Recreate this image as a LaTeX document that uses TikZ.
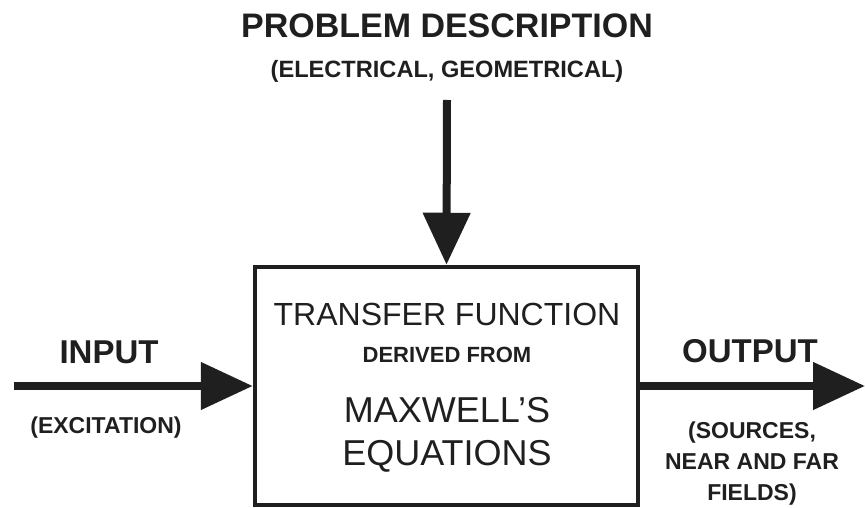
\documentclass[tikz,border=0pt]{standalone}
\usepackage{fontspec}
\setmainfont{Liberation Sans}
\usetikzlibrary{arrows.meta}
\begin{document}
\begin{tikzpicture}[x=1pt,y=-1pt,
  flow/.style={line width=8pt, draw=black!88,
    -{Triangle[length=52pt,width=46pt]}},
  frame/.style={draw=black!88, line width=4.5pt, minimum width=383pt,
    minimum height=238pt, inner sep=0pt},
  txt/.style={inner sep=0pt, anchor=base, text=black!88, align=center},
  bighead/.style={txt, font=\bfseries\fontsize{34}{40}\selectfont},
  label/.style={txt, font=\bfseries\fontsize{33}{40}\selectfont},
  note/.style={txt, font=\bfseries\fontsize{23}{31}\selectfont},
  inside/.style={txt, font=\fontsize{32}{38}\selectfont},
  insmall/.style={txt, font=\bfseries\fontsize{22}{26}\selectfont},
  inbig/.style={txt, font=\fontsize{36}{43}\selectfont}]
\useasboundingbox (0,0) rectangle (865,508);

% central block
\node[frame] (tf) at (446.5,386) {};
\node[inside]  (t1) at (447,325) {TRANSFER FUNCTION};
\node[insmall] (t2) at (447,362) {DERIVED FROM};
\node[inbig]   (t3) at (447,422) {MAXWELL’S};
\node[inbig]   (t4) at (447,465) {EQUATIONS};

% problem description (top)
\node[bighead] (pd) at (447,38) {PROBLEM DESCRIPTION};
\node[note, font=\bfseries\fontsize{23.6}{31}\selectfont] (pdn) at (447,78) {(ELECTRICAL, GEOMETRICAL)};
\coordinate (pdtail) at (447,100);
\draw[flow] (pdtail) -- (tf.north);

% input (left)
\node[label] (in) at (109,363) {INPUT};
\node[note]  (inn) at (106,433) {(EXCITATION)};
\coordinate (intail) at (14,386);
\draw[flow] (intail) -- (tf.west);

% output (right); the base of a wrapped node sits on its last line
\node[label] (out) at (750,362) {OUTPUT};
\node[note]  (outn) at (752,500) {(SOURCES,\\NEAR AND FAR\\FIELDS)};
\coordinate (outhead) at (865,386);
\draw[flow] (tf.east) -- (outhead);
\end{tikzpicture}
\end{document}
